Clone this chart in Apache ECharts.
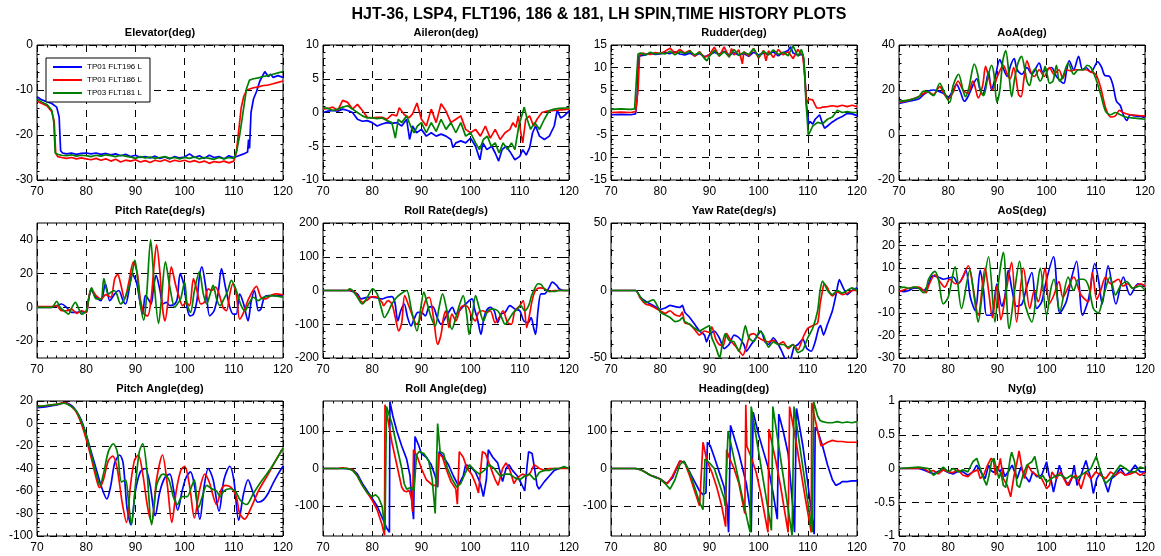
<!DOCTYPE html>
<html><head><meta charset="utf-8">
<script src="https://cdn.jsdelivr.net/npm/echarts@6/dist/echarts.min.js"></script>
<style>html,body{margin:0;padding:0;background:#fff}#c{width:1161px;height:556px}</style>
</head><body><div id="c"></div>
<script>
// ---------------- DATA (time [s], value) ----------------
const seriesNames = ['TP01 FLT196 L', 'TP01 FLT186 L', 'TP03 FLT181 L'];
const xTicks = [70, 80, 90, 100, 110, 120];

const elevB = [[70,-11.5],[71,-12.2],[72,-12.6],[73,-13],[74,-13.8],[74.5,-16],[74.8,-23.5],[75.2,-24],[76,-24.2],[77,-24],[78,-24.3],[79,-24.1],[80,-24],[81,-24.2],[82,-24],[83,-24.3],[84,-24.1],[85,-24.4],[86,-24.2],[87,-24.6],[88,-24.3],[89,-24.8],[90,-24.5],[91,-25],[92,-24.8],[93,-25.1],[94,-24.7],[95,-25.2],[96,-24.9],[97,-25.3],[98,-24.8],[99,-25.1],[100,-24.9],[101,-24.2],[102,-25],[103,-24.6],[104,-25.2],[105,-24.5],[106,-25],[107,-24.8],[108,-25.3],[109,-24.6],[110,-25],[111,-24.6],[112,-24.2],[112.8,-23.8],[113,-21],[113.2,-23],[113.5,-15],[114,-12],[114.6,-10.4],[115.3,-8],[116.3,-5.9],[117,-7],[117.5,-6.5],[118,-7.2],[119,-6.8],[120,-7.2]];
const elevR = [[70,-12.5],[71,-13],[72,-13.5],[73,-14.8],[73.5,-17],[73.8,-24],[74.2,-24.8],[75,-25],[76,-25.2],[77,-25],[78,-25.3],[79,-25.1],[80,-25.3],[81,-25.5],[82,-25.2],[83,-25.6],[84,-25.3],[85,-25.8],[86,-25.4],[87,-26],[88,-25.6],[89,-25.8],[90,-25.5],[91,-26],[92,-25.7],[93,-26.1],[94,-25.6],[95,-25.9],[96,-25.5],[97,-26],[98,-25.6],[99,-25.9],[100,-25.6],[101,-26],[102,-25.7],[103,-26.1],[104,-25.8],[105,-26.3],[106,-25.9],[107,-26.1],[108,-25.8],[109,-26.2],[110,-25.8],[110.5,-24],[111,-19],[111.5,-14],[112,-11.5],[112.6,-10],[113,-9.6],[114,-9.5],[115,-9.3],[116,-9],[117,-8.9],[118,-8.6],[119,-8.3],[120,-8]];
const elevG = [[70,-12],[71,-12.7],[72,-13.2],[73,-14.5],[73.4,-17],[73.7,-24],[74.2,-24.3],[75,-24.5],[76,-24.6],[77,-24.4],[78,-24.7],[79,-24.5],[80,-24.6],[81,-24.8],[82,-24.5],[83,-24.7],[84,-24.4],[85,-24.6],[86,-24.8],[87,-24.5],[88,-24.7],[89,-24.9],[90,-25.2],[91,-24.8],[92,-25.1],[93,-24.9],[94,-25.2],[95,-25],[96,-24.8],[97,-25.2],[98,-25],[99,-25.3],[100,-25],[101,-25.2],[102,-24.9],[103,-25.3],[104,-25],[105,-25.2],[106,-25.4],[107,-25],[108,-25.3],[109,-25],[110,-25.2],[110.6,-23.5],[111.2,-20],[111.9,-14.8],[112.6,-9.6],[113.2,-7.8],[114,-7.5],[115,-7.3],[116,-7],[117,-6.8],[118,-6.5],[119,-6.2],[120,-5.9]];

const ailB = [[70,0],[71,0.2],[72,0.3],[73,0.2],[74,0.5],[75,0.3],[76,0],[77,-1],[78,-1.3],[79,-1.2],[80,-1.5],[81,-2],[82,-1.7],[83,-1.5],[84,-1.6],[85,-1.5],[86,-2],[87,-1],[87.6,-4],[88.2,-2],[89,-3],[90,-2.5],[91,-3.5],[92,-3],[93,-3.5],[94,-3.2],[95,-3.5],[96,-4],[96.4,-5.2],[97,-4.5],[98,-4.2],[99,-4.5],[100,-3.8],[101,-5],[101.9,-7],[102.5,-4.5],[103.3,-5.5],[104.3,-5],[105,-6],[105.7,-7.2],[106.4,-5.5],[107.2,-5],[108,-5.8],[109,-7],[110,-6.5],[110.6,-5.5],[111.3,-6.3],[112,-5.2],[112.6,-3],[113.2,-2],[114,-3.5],[115,-4],[116,-3.5],[117,-2],[117.6,0.3],[118.3,-0.8],[119,-0.5],[120,0.2]];
const ailR = [[70,0.5],[71,0.6],[72,0.8],[73,0.3],[74,1.8],[75,1.5],[76,0.5],[77,1.2],[78,0.3],[79,-0.7],[80,-0.8],[81,-0.7],[82,-0.7],[83,-1],[84,-0.3],[85,-0.5],[85.5,0.7],[86.5,-0.3],[87.5,-0.8],[88.2,-0.2],[89.1,1.4],[90,-1],[91,-2],[92,0.5],[93,-1.5],[94,1.3],[95,0.2],[96,-1.5],[97,-1],[98,-0.5],[99,-2.5],[100,-3],[101,-2.5],[102,-3.5],[103,-2],[104,-3.8],[105,-2.5],[106,-4],[107,-3],[108,-2.5],[108.6,-1.5],[109.2,-2.2],[109.7,-0.5],[110.2,-3],[110.6,-4.5],[111.2,-1],[112,-0.5],[112.8,-2],[113.5,-1],[114.5,0],[115.5,0.2],[117,0.3],[118.5,0.4],[120,0.5]];
const ailG = [[70,0.7],[71,0.6],[72,0.3],[73,0.5],[74,0.8],[75,1],[76,0.5],[77,0],[78,-0.5],[79,-0.8],[80,-0.8],[81,-0.9],[82,-0.8],[83,-1.2],[84,-1.5],[84.7,-3.8],[85.3,-1],[86,-1.5],[87,-0.5],[87.8,-2],[88.5,-3],[89.2,-2],[90,-1.5],[91,-3],[92,-1.5],[93,-2.8],[94,-1],[95,-2.5],[96,-1.5],[97,-3],[98,-1.5],[99,-3.5],[100,-3],[101,-4.5],[101.8,-5.5],[102.6,-4],[103.4,-3.5],[104.2,-5],[105,-4.5],[105.8,-6],[106.6,-4.5],[107.5,-5.5],[108.3,-4.5],[109,-5.5],[109.8,-2],[110.9,0.8],[111.5,-1],[112.2,-2.5],[113,-1.5],[114,-2.5],[115,-1],[116,0.3],[117,0.5],[118,0.6],[120,0.7]];

const rudB = [[70,-0.5],[72,-0.4],[74,-0.5],[75,-0.3],[75.3,3],[75.6,12.5],[76,12.9],[77,12.8],[78,13.2],[79,12.9],[80,13],[81,13.3],[82,13.1],[83,13.5],[84,13],[85,12.8],[86,13.2],[87,12.6],[88,13.1],[89,12.4],[90,12.8],[91,13.4],[92,12.9],[93,13.6],[94,12.8],[95,13.3],[96,12.7],[97,13.1],[98,12.5],[99,13.4],[100,12.8],[101,13.2],[102,12.9],[103,13.5],[104,12.6],[105,13.3],[106,13.8],[106.5,14.6],[107,13.2],[108,12.7],[109,13],[109.3,10],[109.7,2],[110.2,-2.5],[110.5,-2],[111,-2.6],[111.5,-1.5],[112.4,-0.5],[113,-2.5],[113.4,-3.5],[114,-3],[115,-2.1],[116,-1.4],[117,-0.9],[118,-0.2],[119,-0.3],[120,-0.7]];
const rudR = [[70,0],[72,0.1],[74,0],[75,0.2],[75.5,5],[75.8,12.8],[76.5,13.2],[77,13],[78,12.9],[79,13.3],[80,13.1],[81,13.6],[82,14.3],[83,13.2],[84,14],[85,13.2],[86,13.8],[87,12.5],[88,13.5],[89,12.2],[90,12.9],[91,14.5],[92,12.5],[93,14.6],[94,12.3],[94.5,14.2],[95,12.8],[96,13.9],[96.7,10.8],[97,13.5],[98,12.6],[99,14.2],[100,12.1],[101,13.8],[101.5,11.5],[102,13.7],[103,12.2],[104,14],[105,12.8],[106,13.5],[107,12],[108,14],[109,12.5],[109.4,8],[109.8,2],[110.2,3],[110.5,3.3],[111,2.8],[111.8,1],[112.5,1],[113,1.2],[114,1.3],[115,1.5],[116,1.3],[117,1.6],[118,1.3],[119,1.6],[120,1.3]];
const rudG = [[70,0.7],[72,0.8],[74,0.7],[74.8,0.8],[75.2,8],[75.5,13],[76,13.2],[77,12.8],[78,13.4],[79,13],[80,13.2],[81,13],[82,13.6],[83,12.8],[84,13.5],[85,13.1],[86,13.6],[87,12.8],[88,13.4],[89,12],[89.5,11.5],[90,12.5],[91,13.8],[92,12.6],[93,13.5],[94,12.4],[95,14],[96,12.7],[97,13.4],[98,12.9],[99,14.2],[100,12.3],[101,13.6],[102,12.8],[103,13.9],[104,12.9],[105,13.4],[106,12.6],[107,14.8],[108,12.5],[108.7,14],[109.2,12],[109.6,3],[110.1,-5],[110.5,-4.2],[111,-3],[112,-2.2],[113,-2.5],[114,-1.5],[115,-1],[116,0.5],[117,0],[118,0.2],[119,0],[120,0]];

const aoaB = [[70,14],[72,15],[74,16],[75,18],[76,19.5],[77,20],[78,19.5],[79,18.5],[80,17],[81,20],[81.7,22.5],[82.5,19],[83.3,15],[84,17],[85,22],[85.8,25],[86.5,20],[87,18],[87.6,22],[88.2,28],[88.8,20],[89.4,24],[90.5,33.5],[91.3,29],[92,26],[92.7,31],[93.4,34],[94,29],[95,27],[96,30],[97,27],[98.5,32],[99.2,28],[100,29],[101,30],[102,26],[103.5,23],[104,28],[104.6,33],[105.5,29],[106.5,35],[107.3,29],[108,30],[109,28],[110.4,32.5],[111.2,30],[111.8,26.5],[112.8,26],[113.5,22],[114.2,15],[115,13],[115.6,9],[116.3,6.5],[117,9],[118,8.5],[120,8]];
const aoaR = [[70,14.5],[72,15.5],[74,17],[75,18.5],[76,19],[77,18],[78.3,21.5],[79,19],[80,16],[81,19],[82,24],[83,20],[84,18.5],[85,24],[85.5,21],[86.1,16.5],[87,22],[87.6,30.5],[88.3,25],[89,20],[90,26],[91.2,31],[92,27],[92.6,25],[93.3,30],[94.3,18],[94.8,17],[95.4,25],[96,33],[96.8,28],[97.5,26],[98.5,29],[99.5,26],[100.6,30],[101.5,27],[102.5,29],[103.3,25],[104,29],[105,28.5],[106,29],[107,29],[108,29],[109,28],[110,27],[111,21],[112,12],[113,8],[114,8.5],[114.8,11],[115.5,10],[117,9],[120,8.5]];
const aoaG = [[70,15],[72,15.5],[74,17],[75,19.5],[76,19],[77,17.5],[78.3,23],[79,20],[80.3,14.5],[81,22],[82.1,27],[83,20],[83.5,17],[84.2,21],[85.3,31.5],[86,27],[86.5,20],[87.2,17.5],[88,25],[88.8,31],[89.3,27],[89.9,14.5],[90.5,20],[91.1,33],[91.7,37.5],[92.3,28],[92.9,17],[93.5,25],[94.2,32],[94.9,35],[95.5,30],[96,24],[96.5,22],[97.2,28],[97.7,29.5],[98.2,26],[98.7,24],[99.2,26],[99.7,30.5],[100.2,26],[100.6,23],[101.3,24],[102,31],[102.6,24],[103.3,26],[104.4,32],[105.5,27],[106.5,29],[107.5,29],[108.2,31],[109,30],[110,25],[111,18],[112,10.5],[113,9],[114,10],[115,9],[116,8],[118,7.5],[120,7]];

const prB = [[70,0],[73,0],[74,1],[75,2],[76,0],[77,-3],[78,-3],[79,-2.5],[80,-3],[80.5,5],[81,10],[82,6],[83,4],[83.9,14],[84.8,4],[85.8,8],[86.6,10],[87.5,4],[88,2],[88.8,12],[89.3,20],[90.2,15],[91,2],[91.5,-4],[92,7],[92.6,5],[93.2,2],[93.7,12],[94.2,19],[95,10],[95.6,2],[96.3,3],[97,1],[98,2],[98.5,5],[99.1,20],[99.8,14],[100.5,0],[101.1,-5],[101.8,-4],[102.5,4],[103,18],[103.5,24],[104.3,12],[105.1,-5],[106,-2],[106.8,8],[107.5,23],[108.3,12],[109.2,0],[109.9,-4],[110.5,-4],[111.2,8],[112,2],[112.9,-8],[113.5,3],[114.2,10],[115,-2],[115.5,-1],[116.2,6],[117,7],[120,7]];
const prR = [[70,0.5],[73,0.5],[74,1],[75,-2],[76,-2],[77,-1],[78.1,-3.5],[79,-2],[80,-3],[80.5,5],[81,11],[82,7],[83,5],[84,7.5],[85,6],[85.8,17],[86.4,19.5],[87,14],[87.8,5],[88.6,14],[89.6,27],[90.4,20],[91,5],[91.8,-4],[92.5,-5],[93.2,5],[93.8,25],[94.3,37],[95,20],[95.5,0],[96,-8],[96.6,3],[97.3,24],[98.2,13],[99,5],[99.6,1],[100.3,3],[101,1],[101.8,17],[102.5,10],[103.3,2],[104,3],[104.8,11],[105.5,10],[106.3,12],[107,8],[107.8,0],[108.5,-2],[109.2,8],[109.8,14],[110.5,8],[111.2,-7],[112,-3],[113,5],[114.6,12.5],[115.5,6],[116.5,5],[117.5,7],[118.5,8],[120,7.5]];
const prG = [[70,0],[73,0],[74,3.5],[74.7,0],[75.5,-2],[76.4,-4],[77.1,0],[77.8,3],[78.5,-1],[79.1,-4],[80,-2],[80.5,5],[81.1,11.5],[82,5],[83,5],[83.6,17],[84.5,8],[85.7,10],[86.2,8],[87,2],[87.8,5],[89,15],[89.9,28],[90.5,15],[91,2],[91.7,-7.5],[92.3,8],[93.1,40],[93.8,15],[94.7,-9.5],[95.3,5],[96.1,27],[97,12],[98,0],[98.5,2],[99.2,5],[100,15],[100.5,2],[101.2,-3],[102,10],[103,21],[103.8,8],[104.5,2],[105.2,8],[105.8,13],[106.5,5],[107.2,1],[108,5],[108.8,10],[109.5,16],[110.5,10],[111.5,1],[112.3,-2],[113,2],[114,6],[115,4],[116,6],[118,7],[120,6]];

const rrB = [[70,0],[75,0],[76,-3],[77,-10],[77.8,-25],[79,-20],[80,-20],[81,-22],[82,-25],[83,-20],[84,-18],[84.6,-35],[85.2,-90],[85.8,-60],[86.5,-40],[87.2,-80],[87.9,-105],[88.5,-85],[89.3,-65],[90,-65],[90.8,-75],[91.5,-50],[92.3,-48],[93.2,-80],[94,-100],[94.7,-85],[95.5,-65],[96.3,-50],[97,-70],[98,-55],[99,-40],[100.3,-25],[100.8,-55],[101.4,-85],[102.1,-130],[102.6,-90],[103.2,-60],[104,-50],[104.8,-60],[105.5,-95],[106.2,-70],[107,-65],[108,-45],[109,-55],[110,-60],[110.8,-90],[111.7,-95],[112.3,-80],[112.8,-110],[113.2,-130],[113.7,-60],[114.3,-10],[115,-10],[116,10],[116.6,25],[117.5,15],[118,5],[119,0],[120,0]];
const rrR = [[70,0],[75,0],[76,0],[77,-15],[78,-35],[79,-28],[80,-18],[81,-20],[82,-35],[82.3,-45],[83.2,-30],[84,-40],[84.7,-80],[85.4,-120],[86,-95],[86.6,-15],[87.3,-40],[88.2,-75],[89,-100],[89.7,-85],[90.4,-50],[91,-25],[91.6,-20],[92.5,-85],[93.3,-160],[94,-130],[94.5,-80],[95,-60],[95.6,-110],[96.2,-70],[97,-90],[98,-50],[98.8,-45],[99.5,-50],[100.2,-75],[101,-90],[101.6,-65],[102.5,-60],[103.2,-65],[104,-60],[105,-95],[105.8,-80],[106.6,-60],[107.5,-95],[108.3,-100],[109,-60],[110,-45],[110.7,-30],[111.4,-110],[112,-70],[112.5,-30],[113,-5],[113.5,5],[114.2,8],[115,5],[116,-3],[117,0],[118,0],[120,0]];
const rrG = [[70,0],[75,0],[75.4,5],[76,0],[77,-20],[78,-40],[79,-20],[80.1,5],[81,-10],[81.8,-50],[82.5,-80],[83.2,-65],[84,-40],[85,-20],[86,-8],[87,0],[88,-60],[89.1,-120],[89.8,-60],[90.5,-5],[91.2,-40],[92,-80],[92.8,-105],[93.6,-50],[94.3,-10],[95.2,-60],[96.2,-115],[97,-80],[97.8,-40],[98.5,-15],[99.2,-70],[99.7,-130],[100.4,-70],[101,-15],[101.8,-55],[102.6,-90],[103.5,-60],[104.5,-55],[105.5,-60],[106.3,-80],[107,-100],[107.8,-85],[108.7,-65],[109.5,-55],[110.2,-45],[111,-60],[111.8,-45],[112.4,-15],[113,5],[113.7,20],[114.3,18],[115,5],[116,-3],[117,-3],[118,0],[120,0]];

const yrB = [[70,0],[75,0],[76,-5],[77,-8],[78,-10],[79,-12],[80,-14],[81,-13],[82,-11],[83,-12],[84,-12.5],[84.5,-11],[85,-16],[86,-20],[87,-25],[88,-30],[89,-33],[89.4,-38],[90,-33],[91,-30],[92,-35],[93,-43],[94,-40],[95,-33],[96,-35],[97,-40],[97.5,-45],[98.5,-40],[99.5,-35],[100.5,-30],[101.3,-38],[102,-40],[103,-35],[104,-40],[104.7,-45],[105.3,-50],[106,-53],[106.6,-50],[107.2,-42],[108,-40],[109,-36],[109.8,-43],[110.7,-45],[111.5,-38],[112.2,-28],[112.6,-26],[113.2,-33],[114,-25],[115,-15],[115.8,-2],[116.4,8],[117.2,2],[118,-3],[119,0],[120,2]];
const yrR = [[70,0],[75,0],[76,-6],[77,-10],[78,-11],[79,-13],[80,-15],[81,-17],[82,-15],[83,-18],[84,-19],[84.5,-16],[85,-24],[86,-25],[87,-29],[88,-33],[89,-30],[90,-31],[90.5,-27],[91.3,-36],[92,-40],[92.8,-41],[93.5,-32],[94.5,-38],[95.5,-42],[96.8,-48],[97.5,-42],[98.2,-33],[99,-32],[100,-35],[101,-37],[102,-38],[103,-37],[104,-40],[105,-38],[106,-43],[107,-40],[108,-44],[109,-35],[110,-28],[111,-26],[112,-24],[112.5,-10],[113,0],[113.3,5],[114,2],[114.5,-2],[115,-4],[116,-1],[117,-3],[118,-2],[119,0],[120,0]];
const yrG = [[70,0],[75,0],[76,-5],[77,-9],[78.6,-7],[79.5,-12],[80,-16],[81,-18],[82,-20],[83,-23],[84,-22],[84.5,-20],[85,-23],[86,-25],[87,-28],[88,-30],[89,-28],[90,-26],[90.5,-35],[91.3,-42],[92.1,-50],[92.6,-40],[93.2,-32],[94,-37],[95,-38],[96,-45],[96.6,-38],[97.3,-26],[98,-35],[99,-38],[100.2,-30],[101,-33],[102,-42],[103,-38],[104,-40],[105,-40],[106,-42],[107,-40],[108,-46],[109,-44],[110,-35],[111,-28],[112,-15],[112.5,0],[113,7],[113.5,4],[114,0],[115,-3],[116,0],[117,-2],[118,0],[119,2],[120,0]];

const aosB = [[70,0],[71,-0.5],[72,0],[73,1],[74,1],[75,0],[76,3],[76.8,6.5],[78,6],[79,5],[80,5.5],[81,6],[82,3],[83,6],[83.6,9],[84.5,-3],[85.5,-9],[86.5,9],[87.2,0],[87.8,-11],[88.8,-11],[89.9,3],[90.9,-7],[91.5,-3],[92.2,9],[93,0],[93.9,-7],[95,-6],[96,2],[97,8],[98,-8],[99,-5],[100,5],[101.4,15],[102.7,-10],[104,-5],[105,5],[106.1,13],[107.3,-11],[108.5,-4],[109.8,12],[110.6,4],[111.3,-6],[112.5,11],[114.1,-6],[115.6,6],[117,-2],[118.6,3],[120,2]];
const aosR = [[70,-0.5],[72,1],[74,1.5],[75,0],[75.5,-1],[76,2],[77.3,7],[78.3,4],[79.3,1.5],[80.3,5],[81.5,3],[82.5,4],[84.1,11],[85,2],[86.1,-11],[87.5,10],[88.2,0],[89,-12],[89.9,2],[90.7,-13],[91.8,0],[92.9,12.5],[93.9,-14],[95.3,10],[96.6,-8],[97.5,0],[98.3,-5],[99.7,10],[100.5,-6],[101.5,-2],[102.5,4],[103.3,-3],[104.5,2],[105.5,6],[107,-2],[108.5,-5],[109.3,8],[110.2,-4],[111,0],[112,6],[113,3],[114.6,5],[115.5,2],[116.5,3],[117.5,1],[119,3],[120,2]];
const aosG = [[70,1],[71,1.5],[72,1],[73,1.5],[74,1],[75,-1],[75.5,0],[76,5],[77.3,8.5],[78,5],[79,-6],[80,-3],[81.4,10.5],[82.7,-8],[84.4,9],[85.3,-3],[86.1,-14],[87,0],[88.2,15],[89.5,-14],[90.3,5],[91.2,17],[92.4,-17],[93.5,0],[94.5,13],[95.5,-5],[97,-14],[98,0],[98.7,10],[100,-11],[100.8,0],[101.5,5],[102.7,-9],[104.4,6],[105.5,0],[106.5,5],[107.5,5],[108.5,2],[109.5,-8],[110.5,-10],[111.5,-3],[112.9,6],[114,-2],[115,2],[116.3,4],[117.5,1],[119,2],[120,0]];

const paB = [[70,14],[72,15],[74,16.5],[75.7,18.5],[77,16],[78,11],[79,3],[80,-10],[81,-25],[82,-40],[83,-55],[84.2,-67],[85,-55],[85.8,-35],[86.8,-28],[87.5,-35],[88.3,-75],[89.1,-90],[90,-60],[91,-43],[92,-40],[93,-55],[94,-82],[95,-60],[96,-48],[97,-45],[97.8,-60],[98.6,-77],[99.5,-60],[100.3,-48],[101.2,-43],[102,-55],[103.1,-85],[104,-55],[104.8,-40],[105.8,-50],[107,-78],[108,-50],[109.2,-38],[110,-50],[111,-86],[112,-62],[112.9,-50],[113.8,-60],[114.9,-70],[116,-68],[117,-62],[118,-53],[119,-45],[120,-38]];
const paR = [[70,15],[72,16],[74,17],[75.5,18.5],[77,15],[78,10],[79,0],[80,-14],[81,-30],[82,-48],[82.7,-57],[83.5,-50],[84.5,-33],[85.4,-29],[86.3,-40],[87.3,-70],[88.2,-88],[89,-55],[89.8,-33],[90.6,-28],[91.5,-45],[92.5,-75],[93.3,-88],[94.3,-50],[95.5,-28],[96.5,-55],[97.4,-88],[98.3,-60],[99.2,-42],[100,-38],[101,-55],[102,-84],[103,-60],[104.1,-45],[105,-52],[106.5,-72],[107.5,-58],[108.3,-55],[109.5,-57],[110.5,-65],[111.2,-80],[112.2,-85],[113.5,-75],[115,-60],[117,-45],[118.5,-33],[120,-22]];
const paG = [[70,15],[72,16],[74,17],[75.5,18],[77,15],[78,11],[79,2],[80,-10],[81,-27],[82,-44],[82.8,-55],[83.5,-45],[84.5,-25],[85.5,-18],[86.3,-25],[87.2,-52],[88,-50],[88.5,-65],[89.2,-90],[90,-55],[90.8,-25],[91.5,-18],[92.3,-40],[93.3,-90],[94.3,-55],[95.2,-46],[95.7,-45],[96.8,-50],[97.7,-65],[98.5,-72],[99.5,-65],[100.5,-65],[101.5,-55],[102,-50],[102.8,-75],[103.6,-65],[104.5,-55],[105.5,-58],[106.5,-60],[107.2,-65],[108,-60],[109.2,-58],[110.3,-60],[111.3,-68],[112.6,-72],[114,-62],[115.5,-52],[117.5,-40],[120,-22]];

const raB = [[70,0],[74,0],[76,-2],[77,-15],[78,-40],[79,-60],[80,-80],[81,-100],[82,-130],[83,-160],[83.5,-170],[83.6,178],[84.2,140],[85,100],[86,60],[87,25],[87.7,-20],[88,-80],[88.4,-135],[88.7,85],[89.5,60],[90,40],[91,30],[92,10],[92.8,-20],[93.3,-50],[93.6,45],[94.5,30],[95.5,10],[96.5,-20],[97.5,-45],[98.5,-20],[99,10],[100,5],[101,-10],[102,-40],[102.6,-75],[103.2,-30],[103.6,50],[104.5,30],[105.5,15],[106.5,-35],[107.2,0],[107.8,10],[108.5,-5],[109.5,-20],[110.3,-40],[111,-60],[111.5,10],[111.8,45],[112.5,40],[113,0],[113.5,-45],[113.9,-55],[115,-35],[116,-20],[117,-5],[118,0],[119,2],[120,0]];
const raR = [[70,0],[73,0],[74,2],[75,0],[76,-2],[77,-20],[78,-45],[79,-65],[80,-85],[81,-110],[82,-150],[82.5,-178],[82.6,170],[83.2,130],[84,70],[85,10],[86,-50],[86.5,-60],[87,-62],[87.5,-58],[88,-80],[88.2,-115],[88.4,50],[89.2,30],[90,0],[91,-30],[92.3,-45],[93.3,-45],[93.5,40],[94.3,30],[95,0],[96,-35],[97,-55],[97.3,-95],[97.7,45],[98.5,30],[99.3,0],[100.2,-15],[101,-40],[101.6,-65],[102.4,45],[103,40],[104,5],[105,-30],[105.6,-45],[106.5,0],[107.2,15],[108,-5],[108.8,-40],[109.5,-25],[110.5,-15],[111.5,-20],[112.2,-10],[112.9,10],[113.5,5],[114,0],[115,-5],[116,0],[120,0]];
const raG = [[70,0],[75,0],[76,-5],[77,-20],[78,-45],[79,-65],[80,-75],[80.7,-70],[81.3,-78],[82,-100],[82.4,-140],[82.6,-165],[82.9,165],[84,120],[85,60],[86,0],[86.5,-40],[87,-55],[88,-50],[88.5,-60],[89,35],[89.5,45],[90.5,40],[91.5,20],[92.2,-30],[92.8,-120],[93.3,120],[93.8,45],[94.5,40],[95.3,0],[96.3,-30],[97.2,-50],[98,-40],[99,-10],[99.8,10],[100.8,-5],[101.8,-15],[102.8,-5],[103.8,10],[104.8,0],[106,-20],[107,-15],[108,-15],[109,-25],[110,-30],[111,-20],[112,-15],[113,-30],[114,-10],[115,-5],[116,-5],[117,0],[118,0],[119,5],[120,0]];

const hdB = [[70,0],[75,0],[76,-3],[77,-10],[78,-18],[79,-22],[80,-28],[81.3,-40],[82.5,-25],[84,20],[85,15],[86,-10],[87,-35],[88,-60],[88.7,-70],[89.3,-65],[89.6,70],[90.2,60],[91,30],[92,-10],[93,-50],[93.6,-100],[93.9,-170],[94.3,115],[96,40],[97.5,-40],[98.3,-110],[98.5,-170],[98.9,150],[100,90],[101,45],[102,0],[103,-70],[103.8,-135],[104.1,145],[105,100],[106,40],[107,-110],[107.3,-170],[107.7,160],[109,60],[110,-40],[111.3,-175],[111.5,110],[112,100],[113,60],[114,10],[115,-30],[115.7,-45],[116.5,-40],[117,-35],[118,-35],[119,-33],[120,-33]];
const hdR = [[70,0],[75,0],[76,-3],[77,-10],[78,-18],[79,-23],[80,-28],[81,-38],[81.5,-40],[82.5,-20],[84,20],[85,15],[86,-20],[87,-60],[88,-100],[88.4,-105],[88.7,70],[89.5,20],[90.5,-10],[91.5,-50],[92.5,-100],[93.3,-155],[93.5,50],[94,30],[95,0],[96,-40],[97.2,-120],[97.4,170],[97.6,60],[98.5,30],[99.5,-10],[100.5,-70],[101.9,-170],[102.1,105],[102.5,100],[103.5,20],[104.5,-50],[106,-170],[106.3,165],[107.5,80],[108.5,0],[109.5,-80],[110.7,-170],[110.8,175],[111.5,130],[112.7,60],[113,55],[114,70],[115,75],[116,72],[117,72],[118,70],[120,70]];
const hdG = [[70,0],[75,0],[76,-3],[77,-10],[78,-18],[79,-24],[80,-28],[81,-40],[82,-55],[83,-30],[84,10],[84.8,20],[86,-10],[87,-50],[88,-90],[88.7,-110],[89.1,25],[90,15],[91,0],[92,-40],[93,-80],[93.2,-100],[93.8,100],[95,27],[96,-34],[97,-95],[98,-155],[98.3,-170],[98.5,165],[99,125],[100,45],[101,-35],[102,-115],[102.6,-165],[102.9,165],[104,68],[105,-20],[106,-108],[106.8,-178],[107.2,165],[108,93],[109,3],[110,-88],[110.9,-170],[111.2,178],[112,140],[112.5,128],[113,125],[114,122],[115,122],[116,125],[117,122],[118,124],[119,122],[120,125]];

const nyB = [[70,0],[74,0],[75,-0.02],[76,-0.05],[77,-0.08],[78,-0.04],[79,-0.02],[80,-0.06],[81,-0.08],[82,-0.04],[83,-0.05],[84,-0.1],[85,-0.05],[85.8,0.05],[86.5,-0.03],[87,-0.1],[87.5,-0.15],[88.2,0.05],[88.7,-0.03],[89.3,-0.06],[90,0.02],[90.5,-0.05],[91,0.01],[91.5,-0.12],[92.2,-0.05],[93,0.05],[94,-0.15],[94.8,0.02],[95.5,-0.1],[96.5,-0.2],[97.2,-0.05],[98,-0.12],[99,-0.1],[100,0.1],[100.5,-0.1],[101,-0.2],[101.4,-0.35],[102,-0.15],[102.6,0.05],[103.2,-0.1],[104,-0.2],[104.5,-0.25],[105.1,-0.15],[105.6,0.05],[106.2,-0.25],[107,-0.1],[108,0.12],[108.6,-0.05],[109,-0.15],[109.5,-0.37],[110.2,-0.15],[111,-0.05],[111.8,-0.2],[112.5,-0.35],[113.2,-0.15],[114,-0.1],[115,0],[116,-0.1],[117,-0.05],[118,0.05],[119,-0.05],[120,-0.05]];
const nyR = [[70,0],[74,0],[75,0.01],[76,-0.05],[77,-0.03],[78,-0.08],[79,-0.02],[80,-0.05],[81,-0.06],[82,-0.02],[83,-0.1],[84,-0.12],[85,-0.05],[86,-0.02],[86.5,-0.15],[87.2,-0.1],[88,0.05],[88.7,0.15],[89.2,0.12],[89.6,-0.1],[90.2,0],[90.6,0.15],[91.2,-0.15],[92,-0.25],[92.7,-0.42],[93.4,-0.1],[94,0.1],[94.4,0.26],[95,0],[95.5,-0.15],[96.2,0.05],[97,-0.05],[98,-0.1],[99,-0.15],[100,-0.3],[100.6,-0.25],[101.1,-0.05],[102,-0.15],[102.8,-0.05],[103.5,-0.15],[104.2,-0.25],[105,-0.15],[106,-0.1],[107,-0.3],[108,-0.05],[109,-0.15],[110,-0.05],[111,-0.1],[112,-0.15],[113,-0.05],[114,-0.1],[115,-0.05],[116,-0.1],[117,-0.08],[118,-0.05],[119,-0.1],[120,-0.06]];
const nyG = [[70,0],[74,0.02],[75,0.01],[76,0],[77,-0.1],[78,-0.05],[79,0.02],[80,-0.05],[81,0],[82,-0.05],[83,-0.02],[84,-0.05],[85,0.1],[85.8,0.15],[86.5,0],[87.2,-0.15],[87.8,-0.25],[88.3,-0.1],[88.8,0.1],[89.3,0.15],[89.8,0],[90.3,-0.15],[90.7,-0.05],[91.2,-0.25],[91.7,-0.28],[92.2,-0.05],[92.6,0.15],[92.9,0.24],[93.5,0.1],[94,-0.25],[94.5,-0.28],[95.2,-0.1],[96,0.05],[97,0.1],[97.6,0.18],[98.1,0],[98.6,-0.15],[99.2,-0.1],[100,-0.2],[101,-0.15],[102,-0.1],[103,-0.1],[104,-0.15],[105,-0.1],[106,-0.15],[107,-0.1],[108,-0.05],[109,0],[110.1,0.18],[110.6,0.05],[111.2,-0.1],[112,-0.22],[113,-0.15],[114,-0.05],[115,0.05],[116,0],[117,-0.05],[118,-0.05],[119,0.02],[120,0]];

// panel definitions: title, y-range, y ticks
const panels = [
  {title:'Elevator(deg)',      min:-30,  max:0,   interval:10,  data:[elevB, elevR, elevG], smooth:false},
  {title:'Aileron(deg)',       min:-10,  max:10,  interval:5,   data:[ailB, ailR, ailG],   smooth:false},
  {title:'Rudder(deg)',        min:-15,  max:15,  interval:5,   data:[rudB, rudR, rudG],   smooth:false},
  {title:'AoA(deg)',           min:-20,  max:40,  interval:20,  data:[aoaB, aoaR, aoaG],   smooth:0.3},
  {title:'Pitch Rate(deg/s)',  min:-30,  max:50,  interval:10,  ticks:[-20,0,20,40], data:[prB, prR, prG], smooth:0.3},
  {title:'Roll Rate(deg/s)',   min:-200, max:200, interval:100, data:[rrB, rrR, rrG],     smooth:0.3},
  {title:'Yaw Rate(deg/s)',    min:-50,  max:50,  interval:50,  data:[yrB, yrR, yrG],     smooth:0.2},
  {title:'AoS(deg)',           min:-30,  max:30,  interval:10,  data:[aosB, aosR, aosG],  smooth:0.3},
  {title:'Pitch Angle(deg)',   min:-100, max:20,  interval:20,  data:[paB, paR, paG],     smooth:0.3},
  {title:'Roll Angle(deg)',    min:-180, max:180, interval:20,  ticks:[-100,0,100], data:[raB, raR, raG], smooth:false},
  {title:'Heading(deg)',       min:-180, max:180, interval:20,  ticks:[-100,0,100], data:[hdB, hdR, hdG], smooth:false},
  {title:'Ny(g)',              min:-1,   max:1,   interval:0.5, data:[nyB, nyR, nyG],     smooth:false}
];
const colors = ['#0000ff', '#ff0000', '#008000'];

// ---------------- LAYOUT ----------------
const FONT = '"Liberation Sans", Arial, Helvetica, sans-serif';
const colLeft = [37, 323, 611, 899];
const rowTop = [45, 223, 401];
const W = 246, H = 135;

const grids = [], xAxes = [], yAxes = [], series = [];
const titles = [{
  text: 'HJT-36, LSP4, FLT196, 186 & 181, LH SPIN,TIME HISTORY PLOTS',
  left: 599, top: 7, textAlign: 'center', padding: 0,
  textStyle: {fontSize: 16, fontWeight: 'bold', fontFamily: FONT, color: '#000'}
}];
const tickStyle = {color: '#000', width: 1};
const dash = {color: '#000', width: 1, type: [7, 6]};
const noLine = {show: false, onZero: false};

panels.forEach((p, i) => {
  const r = Math.floor(i / 4), c = i % 4;
  grids.push({left: colLeft[c], top: rowTop[r], width: W, height: H, show: true,
    borderColor: '#000', borderWidth: 1, backgroundColor: 'transparent', containLabel: false});
  titles.push({text: p.title, left: colLeft[c] + W / 2, top: rowTop[r] - 18, textAlign: 'center', padding: 0,
    textStyle: {fontSize: 11, fontWeight: 'bold', fontFamily: FONT, color: '#000'}});
  const xb = {type: 'value', gridIndex: i, min: xTicks[0], max: xTicks[xTicks.length - 1], interval: 10};
  xAxes.push(Object.assign({}, xb, {position: 'bottom',
    axisLine: noLine,
    axisTick: {show: true, inside: true, length: 5, lineStyle: tickStyle},
    minorTick: {show: true, splitNumber: 5, length: 2.5, lineStyle: tickStyle},
    axisLabel: {show: true, margin: 6, fontSize: 12, color: '#000', fontFamily: FONT, showMinLabel: true, showMaxLabel: true},
    splitLine: {show: true, lineStyle: dash}}));
  xAxes.push(Object.assign({}, xb, {position: 'top',
    axisLine: noLine,
    axisTick: {show: true, inside: true, length: 5, lineStyle: tickStyle},
    minorTick: {show: true, splitNumber: 5, length: 2.5, lineStyle: tickStyle},
    axisLabel: {show: false}, splitLine: {show: false}}));
  const yb = {type: 'value', gridIndex: i, min: p.min, max: p.max, interval: p.interval};
  const tk = {show: true, inside: true, length: 5, lineStyle: tickStyle};
  const lb = {show: true, margin: 4, fontSize: 12, color: '#000', fontFamily: FONT, showMinLabel: true, showMaxLabel: true};
  if (p.ticks) { tk.customValues = p.ticks; lb.customValues = p.ticks; }
  const minor = p.ticks ? {show: false} : {show: true, splitNumber: 5, length: 2.5, lineStyle: tickStyle};
  yAxes.push(Object.assign({}, yb, {position: 'left',
    axisLine: noLine, axisTick: tk, minorTick: minor, axisLabel: lb,
    splitLine: {show: true, lineStyle: dash}}));
  yAxes.push(Object.assign({}, yb, {position: 'right',
    axisLine: noLine, axisTick: Object.assign({}, tk), minorTick: minor,
    axisLabel: {show: false}, splitLine: {show: false}}));
  p.data.forEach((d, k) => {
    series.push({
      name: seriesNames[k], type: 'line', xAxisIndex: 2 * i, yAxisIndex: 2 * i,
      data: d, symbol: 'none', showSymbol: false, smooth: p.smooth, clip: true,
      lineStyle: {color: colors[k], width: 1.7}, itemStyle: {color: colors[k]},
      emphasis: {disabled: true}, z: 2 + k
    });
  });
});

const chart = echarts.init(document.getElementById('c'), null, {renderer: 'canvas'});
chart.setOption({
  animation: false,
  backgroundColor: '#fff',
  title: titles,
  legend: {
    data: seriesNames, left: 46, top: 58, orient: 'vertical',
    backgroundColor: '#fff', borderColor: '#000', borderWidth: 1,
    padding: [5, 8, 5, 7], itemGap: 5, itemWidth: 29, itemHeight: 2, icon: 'rect',
    textStyle: {fontSize: 8, color: '#000', fontFamily: FONT}, selectedMode: false
  },
  grid: grids, xAxis: xAxes, yAxis: yAxes, series: series
});
</script></body></html>
